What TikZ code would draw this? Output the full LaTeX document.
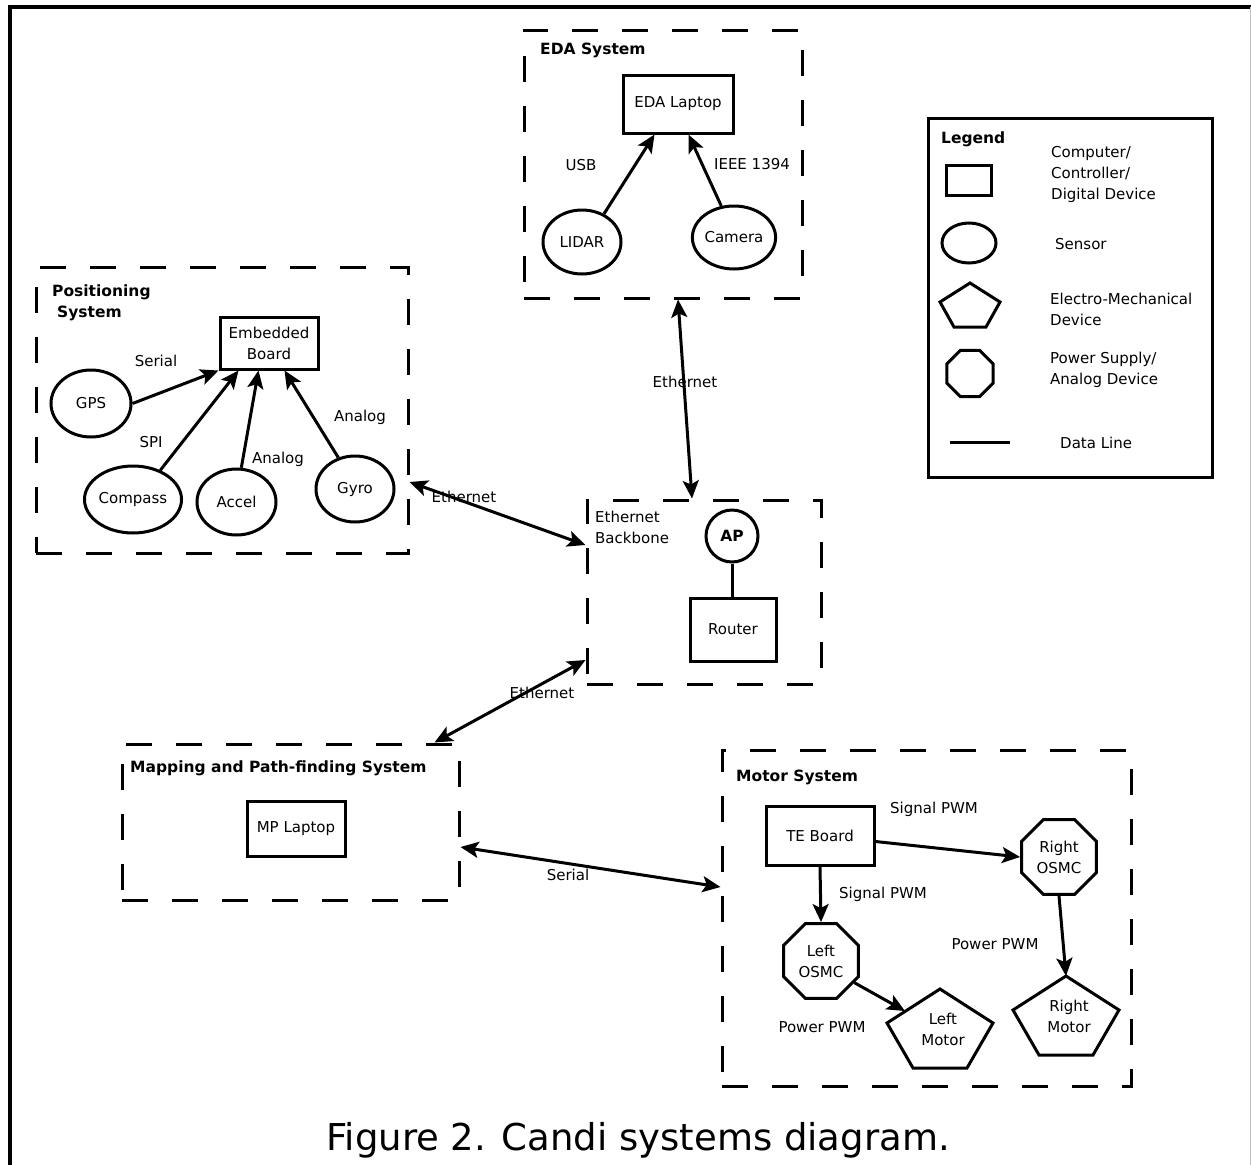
\documentclass[tikz,border=0pt]{standalone}
\usepackage{fontspec}
\setmainfont{DejaVu Sans}
\usetikzlibrary{shapes.geometric,arrows.meta,calc}
\tikzset{
  txt/.style={font=\fontsize{15}{21}\selectfont, inner sep=0pt, align=center},
  ttl/.style={font=\fontsize{15.5}{21}\selectfont\bfseries, inner sep=0pt, align=left, anchor=west},
  sysbox/.style={draw, line width=3pt, dash pattern=on 26pt off 24pt, rectangle, inner sep=0pt},
  dev/.style={draw, line width=3pt, rectangle, inner sep=0pt, font=\fontsize{15}{21}\selectfont, align=center},
  sensor/.style={draw, line width=3pt, ellipse, inner sep=0pt, font=\fontsize{15}{21}\selectfont},
  power/.style={draw, line width=3pt, regular polygon, regular polygon sides=8, inner sep=0pt, minimum size=81pt, font=\fontsize{15}{21}\selectfont, align=center},
  shp/.style={draw, line width=3pt, line join=miter},
  link/.style={line width=3pt, -{Stealth[length=18pt,width=16pt,inset=4pt]}},
  blink/.style={line width=3pt, {Stealth[length=18pt,width=16pt,inset=4pt]}-{Stealth[length=18pt,width=16pt,inset=4pt]}},
}
\begin{document}
\begin{tikzpicture}[x=1pt,y=-1pt]
\useasboundingbox (0,0) rectangle (1251,1165);
% frame
\draw[line width=3.5pt] (10,1166) -- (10,7) -- (1251,7);
\draw[black!25, line width=1pt] (1250,7) -- (1250,1166);

% system boxes
\node[sysbox, minimum width=372pt, minimum height=286pt] (pos) at (222,410) {};
\node[sysbox, minimum width=278pt, minimum height=268pt] (eda) at (663,164) {};
\node[sysbox, minimum width=234pt, minimum height=184pt] (bb) at (704,592) {};
\node[sysbox, minimum width=337pt, minimum height=156pt] (map) at (290.5,822) {};
\node[sysbox, minimum width=409pt, minimum height=336pt] (mot) at (926.5,918) {};
\node[draw, line width=3pt, rectangle, inner sep=0pt, minimum width=284pt, minimum height=359pt] (leg) at (1070,297.5) {};

% titles
\node[ttl] (tpos) at (52,303) {Positioning\\\hspace*{5pt}System};
\node[ttl] (teda) at (540,50) {EDA System};
\node[ttl] (tmap) at (130,768) {Mapping and Path-finding System};
\node[ttl] (tmot) at (736,777) {Motor System};
\node[ttl] (tleg) at (941,139) {Legend};
\node[txt, anchor=west, align=left] (tbb) at (595,527.5) {Ethernet\\Backbone};

% positioning system
\node[dev, minimum width=98pt, minimum height=52pt] (emb) at (269,343) {Embedded\\Board};
\node[sensor, minimum width=80pt, minimum height=67pt] (gps) at (91,403.5) {GPS};
\node[sensor, minimum width=96pt, minimum height=67pt] (compass) at (133,499.5) {Compass};
\node[sensor, minimum width=79pt, minimum height=66pt] (accel) at (236.5,502) {Accel};
\node[sensor, minimum width=78pt, minimum height=66pt] (gyro) at (355,489) {Gyro};
\draw[link] (gps.east) -- (emb.south west);
\draw[link] (compass.47) -- ([xshift=20pt]emb.south west);
\draw[link] (accel.82) -- ([xshift=40pt]emb.south west);
\draw[link] (gyro.118) -- ([xshift=66pt]emb.south west);
\node[txt] (lser) at (156,361) {Serial};
\node[txt] (lspi) at (151,442) {SPI};
\node[txt] (lan1) at (278,459) {Analog};
\node[txt] (lan2) at (360,417) {Analog};

% EDA system
\node[dev, minimum width=110pt, minimum height=58pt] (lap) at (678,104) {EDA Laptop};
\node[sensor, minimum width=78pt, minimum height=64pt] (lidar) at (582,242) {LIDAR};
\node[sensor, minimum width=78pt, minimum height=63pt] (cam) at (734,237.5) {Camera};
\draw[link] (lidar.52) -- ([xshift=33pt]lap.south west);
\draw[link] (cam.112) -- ([xshift=67pt]lap.south west);
\node[txt] (lusb) at (581,165) {USB};
\node[txt] (lieee) at (752,164) {IEEE 1394};

% ethernet backbone
\node[draw, line width=3pt, circle, inner sep=0pt, minimum size=52pt, font=\fontsize{15.5}{21}\selectfont\bfseries] (ap) at (732,536) {AP};
\node[dev, minimum width=86pt, minimum height=63pt] (router) at (733,629.5) {Router};
\draw[line width=3pt] (ap.south) -- (ap.south |- router.north);

% mapping
\node[dev, minimum width=98pt, minimum height=55pt] (mp) at (296,828.5) {MP Laptop};

% motor system
\node[dev, minimum width=108pt, minimum height=59pt] (te) at (820,835.5) {TE Board};
\node[power] (ro) at (1059,857) {Right\\OSMC};
\node[power] (lo) at (821,961) {Left\\OSMC};
\node[txt] (lm) at (940,1029) {\hspace*{6pt}Left\\\hspace*{6pt}Motor};
\node[txt] (rm) at (1066,1016) {\hspace*{6pt}Right\\\hspace*{6pt}Motor};
\draw[shp, shift={(lm.center)}] (0,-40) -- (53,-6) -- (27,39) -- (-27,39) -- (-53,-6) -- cycle;
\draw[shp, shift={(rm.center)}] (0,-40) -- (53,-6) -- (27,39) -- (-27,39) -- (-53,-6) -- cycle;
\coordinate (lmin) at ($(lm.center)+(-35,-18)$);
\coordinate (rmtop) at ($(rm.center)+(0,-40)$);
\draw[link] ([yshift=-6pt]te.east) -- (ro.west);
\draw[link] (te.south) -- (lo.north);
\draw[link] (lo.-33) -- (lmin);
\draw[link] (ro.south) -- (rmtop);
\node[txt] (lsp1) at (934,809) {Signal PWM};
\node[txt] (lsp2) at (883,894) {Signal PWM};
\node[txt] (lpp1) at (995,944) {Power PWM};
\node[txt] (lpp2) at (822,1027) {Power PWM};

% inter-system links
\draw[blink] ([xshift=15pt]eda.south) -- ([xshift=-12pt]bb.north);
\draw[blink] ([yshift=-72pt]pos.east) -- ([yshift=47pt]bb.west);
\draw[blink] ([yshift=-68pt]bb.west) -- ([xshift=-26pt]map.north east);
\draw[blink] ([yshift=-25pt]map.east) -- ([yshift=31pt]mot.west);
\node[txt] (le1) at (685,382) {Ethernet};
\node[txt] (le2) at (464,497) {Ethernet};
\node[txt] (le3) at (542,693) {Ethernet};
\node[txt] (lse2) at (568,875) {Serial};

% legend
\node[draw, line width=3pt, rectangle, inner sep=0pt, minimum width=45pt, minimum height=30pt] (grect) at (968.5,180) {};
\node[draw, line width=3pt, ellipse, inner sep=0pt, minimum width=54pt, minimum height=40pt] (gell) at (969,243) {};
\coordinate (gpent) at (970,305);
\draw[shp, shift={(gpent)}] (0,-22) -- (30,-3) -- (16,22) -- (-16,22) -- (-30,-3) -- cycle;
\node[draw, line width=3pt, regular polygon, regular polygon sides=8, inner sep=0pt, minimum size=50pt] (goct) at (970,373.5) {};
\coordinate (gl1) at (950,442);
\coordinate (gl2) at (1010,442);
\draw[line width=3pt] (gl1) -- (gl2);
\node[txt, anchor=west, align=left] (d1) at (1051,174) {Computer/\\Controller/\\Digital Device};
\node[txt, anchor=west] (d2) at (1055,244) {Sensor};
\node[txt, anchor=west, align=left] (d3) at (1050,309.5) {Electro-Mechanical\\Device};
\node[txt, anchor=west, align=left] (d4) at (1050,369.5) {Power Supply/\\Analog Device};
\node[txt, anchor=west] (d5) at (1060,443) {Data Line};

% caption
\node[inner sep=0pt, font=\fontsize{37}{44}\selectfont] (cap) at (638,1140) {Figure 2. Candi systems diagram.};
\end{tikzpicture}
\end{document}
